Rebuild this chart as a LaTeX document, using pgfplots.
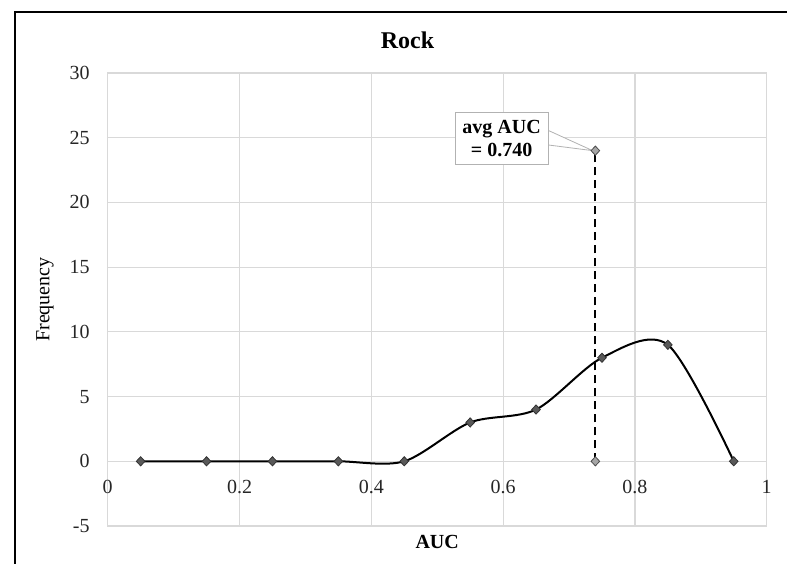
\documentclass[border=0pt]{standalone}
\usepackage{pgfplots}
\pgfplotsset{compat=1.18}
\usepackage{fontspec}
\setmainfont{Liberation Serif}
\definecolor{gridgray}{HTML}{D9D9D9}
\definecolor{markgray}{HTML}{595959}
\definecolor{avggray}{HTML}{A6A6A6}
\begin{document}
\begin{tikzpicture}
\path[use as bounding box] (0pt,0pt) rectangle (393.5pt,-281.5pt);
\draw[line width=1pt] (7.25pt,-282pt) -- (7.25pt,-6pt) -- (394pt,-6pt);
\begin{axis}[
  at={(53.85pt,-263pt)}, anchor=south west,
  scale only axis, width=329.5pt, height=226.5pt,
  xmin=0, xmax=1, ymin=-5, ymax=30,
  xtick={0,0.2,0.4,0.6,0.8,1}, ytick={-5,0,5,10,15,20,25,30},
  xticklabels={0,0.2,0.4,0.6,0.8,1},
  major tick length=0pt,
  grid=major, grid style={gridgray, line width=0.6pt},
  axis line style={gridgray, line width=0.6pt},
  /pgf/number format/assume math mode=true,
  tick label style={font=\fontsize{10}{12}\selectfont, text=black!85},
  xticklabel style={anchor=center, yshift=19.5pt},
  yticklabel style={anchor=east, xshift=-5.5pt},
  xlabel={\textbf{AUC}},
  xlabel style={at={(axis description cs:0.5,0)}, anchor=center, yshift=-8pt, font=\fontsize{10}{12}\selectfont},
  ylabel={Frequency},
  ylabel style={at={(axis description cs:-0.095,0.5)}, anchor=center, font=\fontsize{10}{12}\selectfont},
  title={\textbf{Rock}},
  title style={at={(axis description cs:0.455,1.0463)}, anchor=center, font=\fontsize{12}{14}\selectfont},
  clip=false,
]
\addplot[black, line width=1pt, smooth, tension=0.5, mark=diamond*, mark size=2.3pt,
  mark options={xscale=1.25, fill=markgray, draw=black!80, line width=0.4pt}]
  coordinates {(0.05,0) (0.15,0) (0.25,0) (0.35,0) (0.45,0) (0.55,3) (0.65,4) (0.75,8) (0.85,9) (0.95,0)};
\addplot[black, line width=1pt, dash pattern=on 4pt off 2.5pt, mark=diamond*, mark size=2.3pt,
  mark options={solid, xscale=1.25, fill=avggray, draw=black!70, line width=0.4pt}]
  coordinates {(0.74,0) (0.74,24)};
\draw[gray!60, fill=white, line width=0.4pt] (axis cs:0.667,25.6) -- (axis cs:0.736,24) -- (axis cs:0.667,24.45) -- cycle;
\node[draw=gray!60, fill=white, line width=0.5pt, align=center, inner sep=1pt,
  minimum width=46.5pt, minimum height=26pt, font=\fontsize{10}{11.3}\selectfont\bfseries]
  at (axis cs:0.5977,24.96) {avg AUC\\= 0.740};
\end{axis}
\end{tikzpicture}
\end{document}
